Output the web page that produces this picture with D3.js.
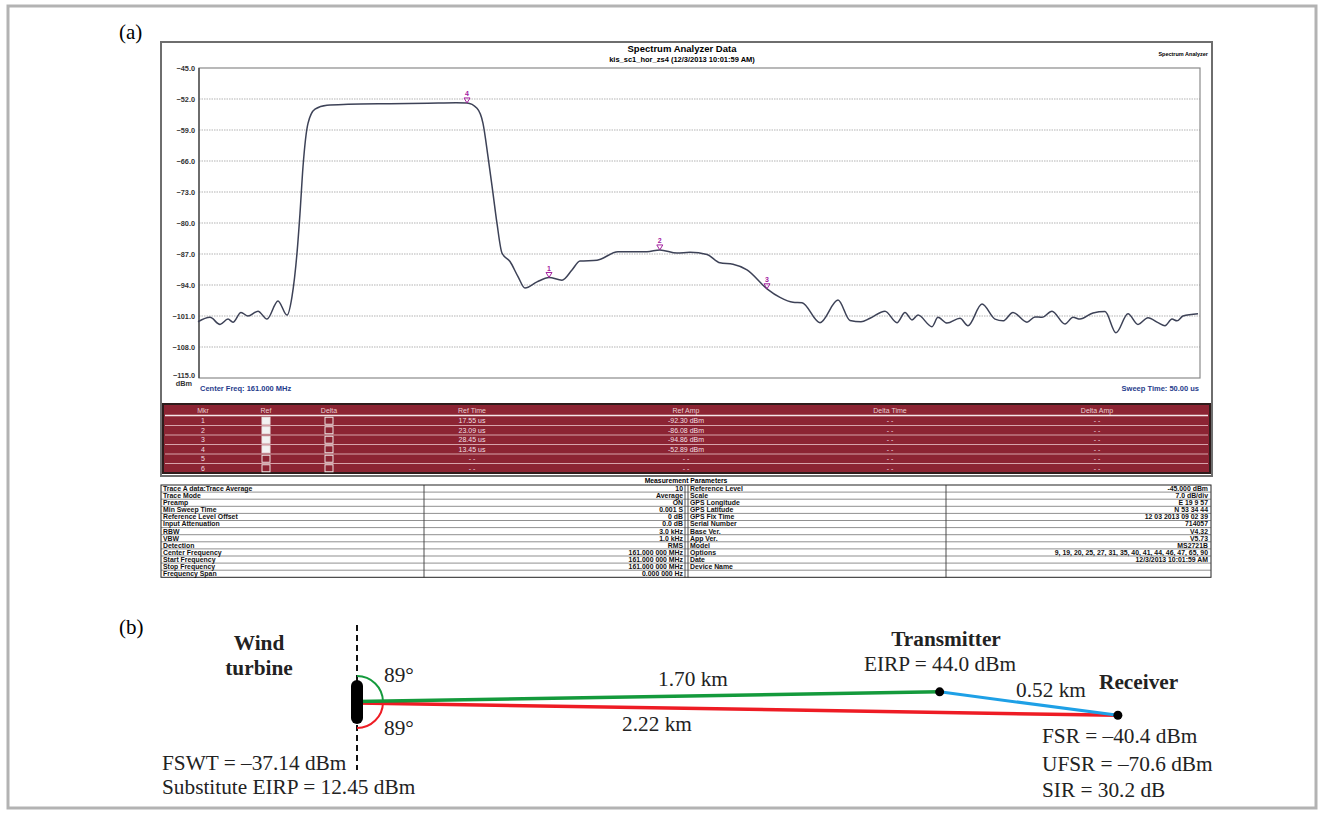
<!DOCTYPE html>
<html>
<head>
<meta charset="utf-8">
<script src="https://cdn.jsdelivr.net/npm/d3@7"></script>
<style>
body { margin: 0; background: #fff; }
svg { display: block; }
</style>
</head>
<body>
<svg></svg>
<script>
// ---- data ----
// averaged trace, time in us / amplitude in dBm
var traceTime = [0, 0.6, 1.1, 1.5, 1.75, 2.15, 2.5, 3.0, 3.45, 4.0, 4.45, 4.7, 4.95, 5.1, 5.25, 5.5, 5.85, 6.45, 7.5, 9.6, 11.5, 12.9, 13.45,
    13.95, 14.25, 14.5, 14.75, 14.95, 15.2, 15.6, 16.0, 16.35, 16.95, 17.55, 18.2, 18.7, 19.1, 19.95, 21.0, 22.45, 23.09, 23.95,
    24.6, 25.45, 26.1, 26.75, 27.45, 28.45, 29.1, 29.75, 30.2, 31.1, 32.0, 32.6, 33.15, 33.6, 34.35, 34.95, 35.35, 35.7, 36.0,
    36.7, 37.0, 37.45, 38.1, 38.5, 39.2, 39.85, 40.25, 40.75, 41.45, 41.85, 42.2, 42.7, 43.35, 43.75, 44.1, 44.75, 45.35, 45.9,
    46.5, 47.0, 47.5, 48.0, 48.35, 48.7, 48.95, 49.25, 50]
var traceAmp = [-102.3, -101.3, -102.9, -101.7, -102.4, -100.2, -101.0, -99.9, -101.7, -97.6, -100.8, -96.6, -86.8, -77.8, -67.3, -57.5, -54.3, -53.4, -53.2, -53.05, -52.95, -52.85, -52.89,
    -54.1, -57.5, -65.0, -73.3, -80.1, -86.8, -88.7, -92.1, -94.7, -93.3, -92.3, -92.9, -90.6, -88.6, -88.4, -86.5, -86.5, -86.08, -86.8,
    -86.6, -87.1, -89.0, -89.3, -90.6, -94.86, -96.8, -97.9, -98.0, -102.5, -97.4, -102.0, -102.3, -101.5, -99.9, -102.5, -100.2, -101.9, -100.8,
    -103.4, -101.3, -102.6, -101.5, -103.2, -98.3, -101.7, -102.1, -100.2, -102.4, -101.2, -101.3, -99.9, -102.8, -101.3, -101.7, -100.3, -100.0, -104.8,
    -100.5, -102.9, -101.4, -102.5, -103.2, -101.7, -102.1, -101.0, -100.5]

var markerIds = [1, 2, 3, 4]
var markerTimes = [17.55, 23.09, 28.45, 13.45]
var markerAmps = [-92.30, -86.08, -94.86, -52.89]

var yTicks = [-45, -52, -59, -66, -73, -80, -87, -94, -101, -108, -115]

// marker table
var mkrHeaders = ["Mkr", "Ref", "Delta", "Ref Time", "Ref Amp", "Delta Time", "Delta Amp"]
var mkrNumbers = ["1", "2", "3", "4", "5", "6"]
var mkrRefOn = [true, true, true, true, false, false]
var mkrRefTime = ["17.55 us", "23.09 us", "28.45 us", "13.45 us", "- -", "- -"]
var mkrRefAmp = ["-92.30 dBm", "-86.08 dBm", "-94.86 dBm", "-52.89 dBm", "- -", "- -"]

// measurement parameters
var paramNamesL = ["Trace A data:Trace Average", "Trace Mode", "Preamp", "Min Sweep Time", "Reference Level Offset", "Input Attenuation",
    "RBW", "VBW", "Detection", "Center Frequency", "Start Frequency", "Stop Frequency", "Frequency Span"]
var paramValuesL = ["10", "Average", "ON", "0.001 S", "0 dB", "0.0 dB", "3.0 kHz", "1.0 kHz", "RMS",
    "161.000 000 MHz", "161.000 000 MHz", "161.000 000 MHz", "0.000 000 Hz"]
var paramNamesR = ["Reference Level", "Scale", "GPS Longitude", "GPS Latitude", "GPS Fix Time", "Serial Number", "Base Ver.",
    "App Ver.", "Model", "Options", "Date", "Device Name", ""]
var paramValuesR = ["-45.000  dBm", "7.0  dB/div", "E 19 9 57", "N 53 34 44", "12 03 2013 09 02 39", "714057", "V4.32",
    "V5.73", "MS2721B", "9, 19, 20, 25, 27, 31, 35, 40, 41, 44, 46, 47, 65, 90", "12/3/2013 10:01:59 AM", "", ""]

// part (b) geometry: distances in km, angles in degrees from the turbine axis
var distTransmitter = 1.70
var distReceiver = 2.22
var distTxRx = 0.52
var angleUp = 89
var angleDown = 89

var sans = "'Liberation Sans', Arial, sans-serif"
var serif = "'Liberation Serif', 'Times New Roman', serif"

var svg = d3.select("svg").attr("width", 1324).attr("height", 816)

// outer figure frame
svg.append("rect")
    .attr("x", 8).attr("y", 6).attr("width", 1308).attr("height", 802)
    .attr("fill", "none").attr("stroke", "#b3b3b3").attr("stroke-width", 3)

svg.append("text").attr("x", 119).attr("y", 39)
    .attr("font-family", serif).attr("font-size", 21).text("(a)")

// ---------- (a) spectrum analyser screenshot ----------
svg.append("rect")
    .attr("x", 161).attr("y", 42).attr("width", 1051).attr("height", 434)
    .attr("fill", "#fff").attr("stroke", "#6e6e6e").attr("stroke-width", 2)

svg.append("text").attr("x", 682).attr("y", 52).attr("text-anchor", "middle")
    .attr("font-family", sans).attr("font-weight", "bold").attr("font-size", 9.5)
    .text("Spectrum Analyzer Data")
svg.append("text").attr("x", 682).attr("y", 62).attr("text-anchor", "middle")
    .attr("font-family", sans).attr("font-weight", "bold").attr("font-size", 7.5)
    .text("kis_sc1_hor_zs4 (12/3/2013 10:01:59 AM)")
svg.append("text").attr("x", 1208).attr("y", 56).attr("text-anchor", "end")
    .attr("font-family", sans).attr("font-weight", "bold").attr("font-size", 5.5)
    .text("Spectrum Analyzer")

var x = d3.scaleLinear().domain([0, 50]).range([198, 1198])
var y = d3.scaleLinear().domain([-115, -45]).range([378, 68])

// grid
svg.append("g").selectAll("line")
    .data(yTicks.slice(1, -1))
    .enter().append("line")
    .attr("x1", 199).attr("x2", 1200)
    .attr("y1", d => y(d)).attr("y2", d => y(d))
    .attr("stroke", "#b4b4b4").attr("stroke-width", 1.2).attr("stroke-dasharray", "1.5,1")

svg.append("rect")
    .attr("x", 199).attr("y", y(-45)).attr("width", 1001).attr("height", y(-115) - y(-45))
    .attr("fill", "none").attr("stroke", "#8a8a8a").attr("stroke-width", 1.2)
svg.append("line").attr("x1", 199).attr("x2", 199).attr("y1", y(-45)).attr("y2", y(-115))
    .attr("stroke", "#444").attr("stroke-width", 1.3)

svg.append("g").selectAll("text")
    .data(yTicks)
    .enter().append("text")
    .attr("x", 195).attr("y", d => y(d) + (d === -115 ? 0 : 2.6))
    .attr("text-anchor", "end")
    .attr("font-family", sans).attr("font-weight", "bold").attr("font-size", 7.3).attr("fill", "#333")
    .text(d => d3.format(".1f")(d))
svg.append("text").attr("x", 192).attr("y", 386).attr("text-anchor", "end")
    .attr("font-family", sans).attr("font-weight", "bold").attr("font-size", 7.3).attr("fill", "#333")
    .text("dBm")

svg.append("text").attr("x", 200).attr("y", 391)
    .attr("font-family", sans).attr("font-weight", "bold").attr("font-size", 7.5).attr("fill", "#1f3c8c")
    .text("Center Freq: 161.000 MHz")
svg.append("text").attr("x", 1199).attr("y", 391).attr("text-anchor", "end")
    .attr("font-family", sans).attr("font-weight", "bold").attr("font-size", 7.5).attr("fill", "#1f3c8c")
    .text("Sweep Time: 50.00 us")

var trace = d3.line()
    .x((d, i) => x(traceTime[i]))
    .y(d => y(d))
    .curve(d3.curveMonotoneX)

svg.append("path")
    .attr("d", trace(traceAmp))
    .attr("fill", "none").attr("stroke", "#3d4257").attr("stroke-width", 1.5)

var markers = svg.append("g").selectAll("g")
    .data(markerIds)
    .enter().append("g")
    .attr("transform", (d, i) => "translate(" + x(markerTimes[i]) + "," + y(markerAmps[i]) + ")")
markers.append("path")
    .attr("d", "M-3,-5 L3,-5 L0,0 Z")
    .attr("fill", "none").attr("stroke", "#a3209f").attr("stroke-width", 1)
markers.append("text")
    .attr("y", -6.5).attr("text-anchor", "middle")
    .attr("font-family", sans).attr("font-weight", "bold").attr("font-size", 7).attr("fill", "#a3209f")
    .text(d => d)

// ---------- marker table ----------
var colX = [203, 266, 329, 472, 686, 890, 1097]
var rowTop = 416, rowH = 9.5

svg.append("rect")
    .attr("x", 163).attr("y", 404).attr("width", 1047).attr("height", 69)
    .attr("fill", "#8c2433").attr("stroke", "#2e1c1c").attr("stroke-width", 2)

svg.append("g").selectAll("text")
    .data(mkrHeaders)
    .enter().append("text")
    .attr("x", (d, i) => colX[i]).attr("y", 413)
    .attr("text-anchor", "middle")
    .attr("font-family", sans).attr("font-size", 7).attr("fill", "#e8cdd0")
    .text(d => d)
svg.append("line").attr("x1", 165).attr("x2", 1208).attr("y1", rowTop - 0.5).attr("y2", rowTop - 0.5)
    .attr("stroke", "#f4e6e8").attr("stroke-width", 1.4)

svg.append("g").selectAll("line")
    .data(mkrNumbers.slice(1))
    .enter().append("line")
    .attr("x1", 165).attr("x2", 1208)
    .attr("y1", (d, i) => rowTop + (i + 1) * rowH).attr("y2", (d, i) => rowTop + (i + 1) * rowH)
    .attr("stroke", "#d7a3aa").attr("stroke-width", 1)

var mrow = svg.append("g").selectAll("g")
    .data(mkrNumbers)
    .enter().append("g")
    .attr("transform", (d, i) => "translate(0," + (rowTop + (i + 0.5) * rowH) + ")")

mrow.append("text").attr("x", colX[0]).attr("y", 2.5).attr("text-anchor", "middle")
    .attr("font-family", sans).attr("font-size", 7).attr("fill", "#f0dfe1").text(d => d)
mrow.append("rect").attr("x", colX[1] - 4).attr("y", -3.5).attr("width", 8).attr("height", 7)
    .attr("fill", (d, i) => mkrRefOn[i] ? "#f2f2f2" : "none")
    .attr("stroke", "#ece4e4").attr("stroke-width", 1)
mrow.append("rect").attr("x", colX[2] - 4).attr("y", -3.5).attr("width", 8).attr("height", 7)
    .attr("fill", "none").attr("stroke", "#ece4e4").attr("stroke-width", 1)
mrow.append("text").attr("x", colX[3]).attr("y", 2.5).attr("text-anchor", "middle")
    .attr("font-family", sans).attr("font-size", 7).attr("fill", "#f0dfe1").text((d, i) => mkrRefTime[i])
mrow.append("text").attr("x", colX[4]).attr("y", 2.5).attr("text-anchor", "middle")
    .attr("font-family", sans).attr("font-size", 7).attr("fill", "#f0dfe1").text((d, i) => mkrRefAmp[i])
mrow.append("text").attr("x", colX[5]).attr("y", 2.5).attr("text-anchor", "middle")
    .attr("font-family", sans).attr("font-size", 7).attr("fill", "#f0dfe1").text("- -")
mrow.append("text").attr("x", colX[6]).attr("y", 2.5).attr("text-anchor", "middle")
    .attr("font-family", sans).attr("font-size", 7).attr("fill", "#f0dfe1").text("- -")

// ---------- measurement parameters ----------
var pTop = 485, pH = 7.1
var pCols = [161, 424, 685, 688, 946, 1211]

svg.append("text").attr("x", 686).attr("y", 483).attr("text-anchor", "middle")
    .attr("font-family", sans).attr("font-weight", "bold").attr("font-size", 6.8)
    .text("Measurement Parameters")

svg.append("rect")
    .attr("x", pCols[0]).attr("y", pTop).attr("width", pCols[5] - pCols[0]).attr("height", pH * paramNamesL.length)
    .attr("fill", "none").attr("stroke", "#222").attr("stroke-width", 1)
svg.append("g").selectAll("line")
    .data(pCols.slice(1, -1))
    .enter().append("line")
    .attr("x1", d => d).attr("x2", d => d)
    .attr("y1", pTop).attr("y2", pTop + pH * paramNamesL.length)
    .attr("stroke", "#222").attr("stroke-width", 0.8)
svg.append("g").selectAll("line")
    .data(paramNamesL.slice(1))
    .enter().append("line")
    .attr("x1", pCols[0]).attr("x2", pCols[5])
    .attr("y1", (d, i) => pTop + (i + 1) * pH).attr("y2", (d, i) => pTop + (i + 1) * pH)
    .attr("stroke", "#444").attr("stroke-width", 0.6)

var prow = svg.append("g").selectAll("g")
    .data(paramNamesL)
    .enter().append("g")
    .attr("transform", (d, i) => "translate(0," + (pTop + i * pH + 5.9) + ")")
    .attr("font-family", sans).attr("font-weight", "bold").attr("font-size", 6.9).attr("fill", "#111")
prow.append("text").attr("x", 163).text(d => d)
prow.append("text").attr("x", 683).attr("text-anchor", "end").text((d, i) => paramValuesL[i])
prow.append("text").attr("x", 690).text((d, i) => paramNamesR[i])
prow.append("text").attr("x", 1208).attr("text-anchor", "end").text((d, i) => paramValuesR[i])

// ---------- (b) geometry sketch ----------
svg.append("text").attr("x", 119).attr("y", 634)
    .attr("font-family", serif).attr("font-size", 21).text("(b)")

var turbine = { x: 357, y: 702 }
var km = d3.scaleLinear().domain([0, distReceiver]).range([0, 761])
var rad = Math.PI / 180
var tx = {
    x: turbine.x + km(distTransmitter) * Math.sin(angleUp * rad),
    y: turbine.y - km(distTransmitter) * Math.cos(angleUp * rad)
}
var rx = {
    x: turbine.x + km(distReceiver) * Math.sin(angleDown * rad),
    y: turbine.y + km(distReceiver) * Math.cos(angleDown * rad)
}

svg.append("line")
    .attr("x1", turbine.x).attr("x2", turbine.x).attr("y1", 625).attr("y2", 770)
    .attr("stroke", "#111").attr("stroke-width", 2).attr("stroke-dasharray", "6,4")

var arcUp = d3.path()
arcUp.arc(turbine.x, turbine.y, 26, -Math.PI / 2, -(90 - angleUp) * rad)
svg.append("path").attr("d", arcUp.toString())
    .attr("fill", "none").attr("stroke", "#149a3c").attr("stroke-width", 2)
var arcDown = d3.path()
arcDown.arc(turbine.x, turbine.y, 26, (90 - angleDown) * rad, Math.PI / 2)
svg.append("path").attr("d", arcDown.toString())
    .attr("fill", "none").attr("stroke", "#ee1c24").attr("stroke-width", 2)

svg.append("line")
    .attr("x1", turbine.x).attr("y1", turbine.y + 1).attr("x2", rx.x).attr("y2", rx.y)
    .attr("stroke", "#ee1c24").attr("stroke-width", 3.5)
svg.append("line")
    .attr("x1", turbine.x).attr("y1", turbine.y - 0.5).attr("x2", tx.x).attr("y2", tx.y)
    .attr("stroke", "#149a3c").attr("stroke-width", 3.5)
svg.append("line")
    .attr("x1", tx.x).attr("y1", tx.y).attr("x2", rx.x).attr("y2", rx.y)
    .attr("stroke", "#1ea0e6").attr("stroke-width", 3)

svg.append("rect")
    .attr("x", turbine.x - 6).attr("y", turbine.y - 22).attr("width", 12).attr("height", 44)
    .attr("rx", 6).attr("fill", "#000")

svg.append("g").selectAll("circle")
    .data([tx, rx])
    .enter().append("circle")
    .attr("cx", d => d.x).attr("cy", d => d.y).attr("r", 4.5).attr("fill", "#000")

var label = function (x0, y0, txt, anchor, bold) {
    svg.append("text").attr("x", x0).attr("y", y0)
        .attr("text-anchor", anchor)
        .attr("font-family", serif).attr("font-size", 21.3)
        .attr("font-weight", bold ? "bold" : "normal").attr("fill", "#222")
        .text(txt)
}
label(259, 650, "Wind", "middle", true)
label(259, 675, "turbine", "middle", true)
label(turbine.x + 27, 682, angleUp + "°", "start", false)
label(turbine.x + 27, 735, angleDown + "°", "start", false)
label(162, 770, "FSWT = \u201337.14 dBm", "start", false)
label(162, 794, "Substitute EIRP = 12.45 dBm", "start", false)
label(693, 686, d3.format(".2f")(distTransmitter) + " km", "middle", false)
label(657, 731, d3.format(".2f")(distReceiver) + " km", "middle", false)
label(946, 646, "Transmitter", "middle", true)
label(940, 671, "EIRP = 44.0 dBm", "middle", false)
label(1051, 697, d3.format(".2f")(distTxRx) + " km", "middle", false)
label(1099, 689, "Receiver", "start", true)
label(1042, 743, "FSR = \u201340.4 dBm", "start", false)
label(1042, 771, "UFSR = \u201370.6 dBm", "start", false)
label(1042, 797, "SIR = 30.2 dB", "start", false)
</script>
</body>
</html>
